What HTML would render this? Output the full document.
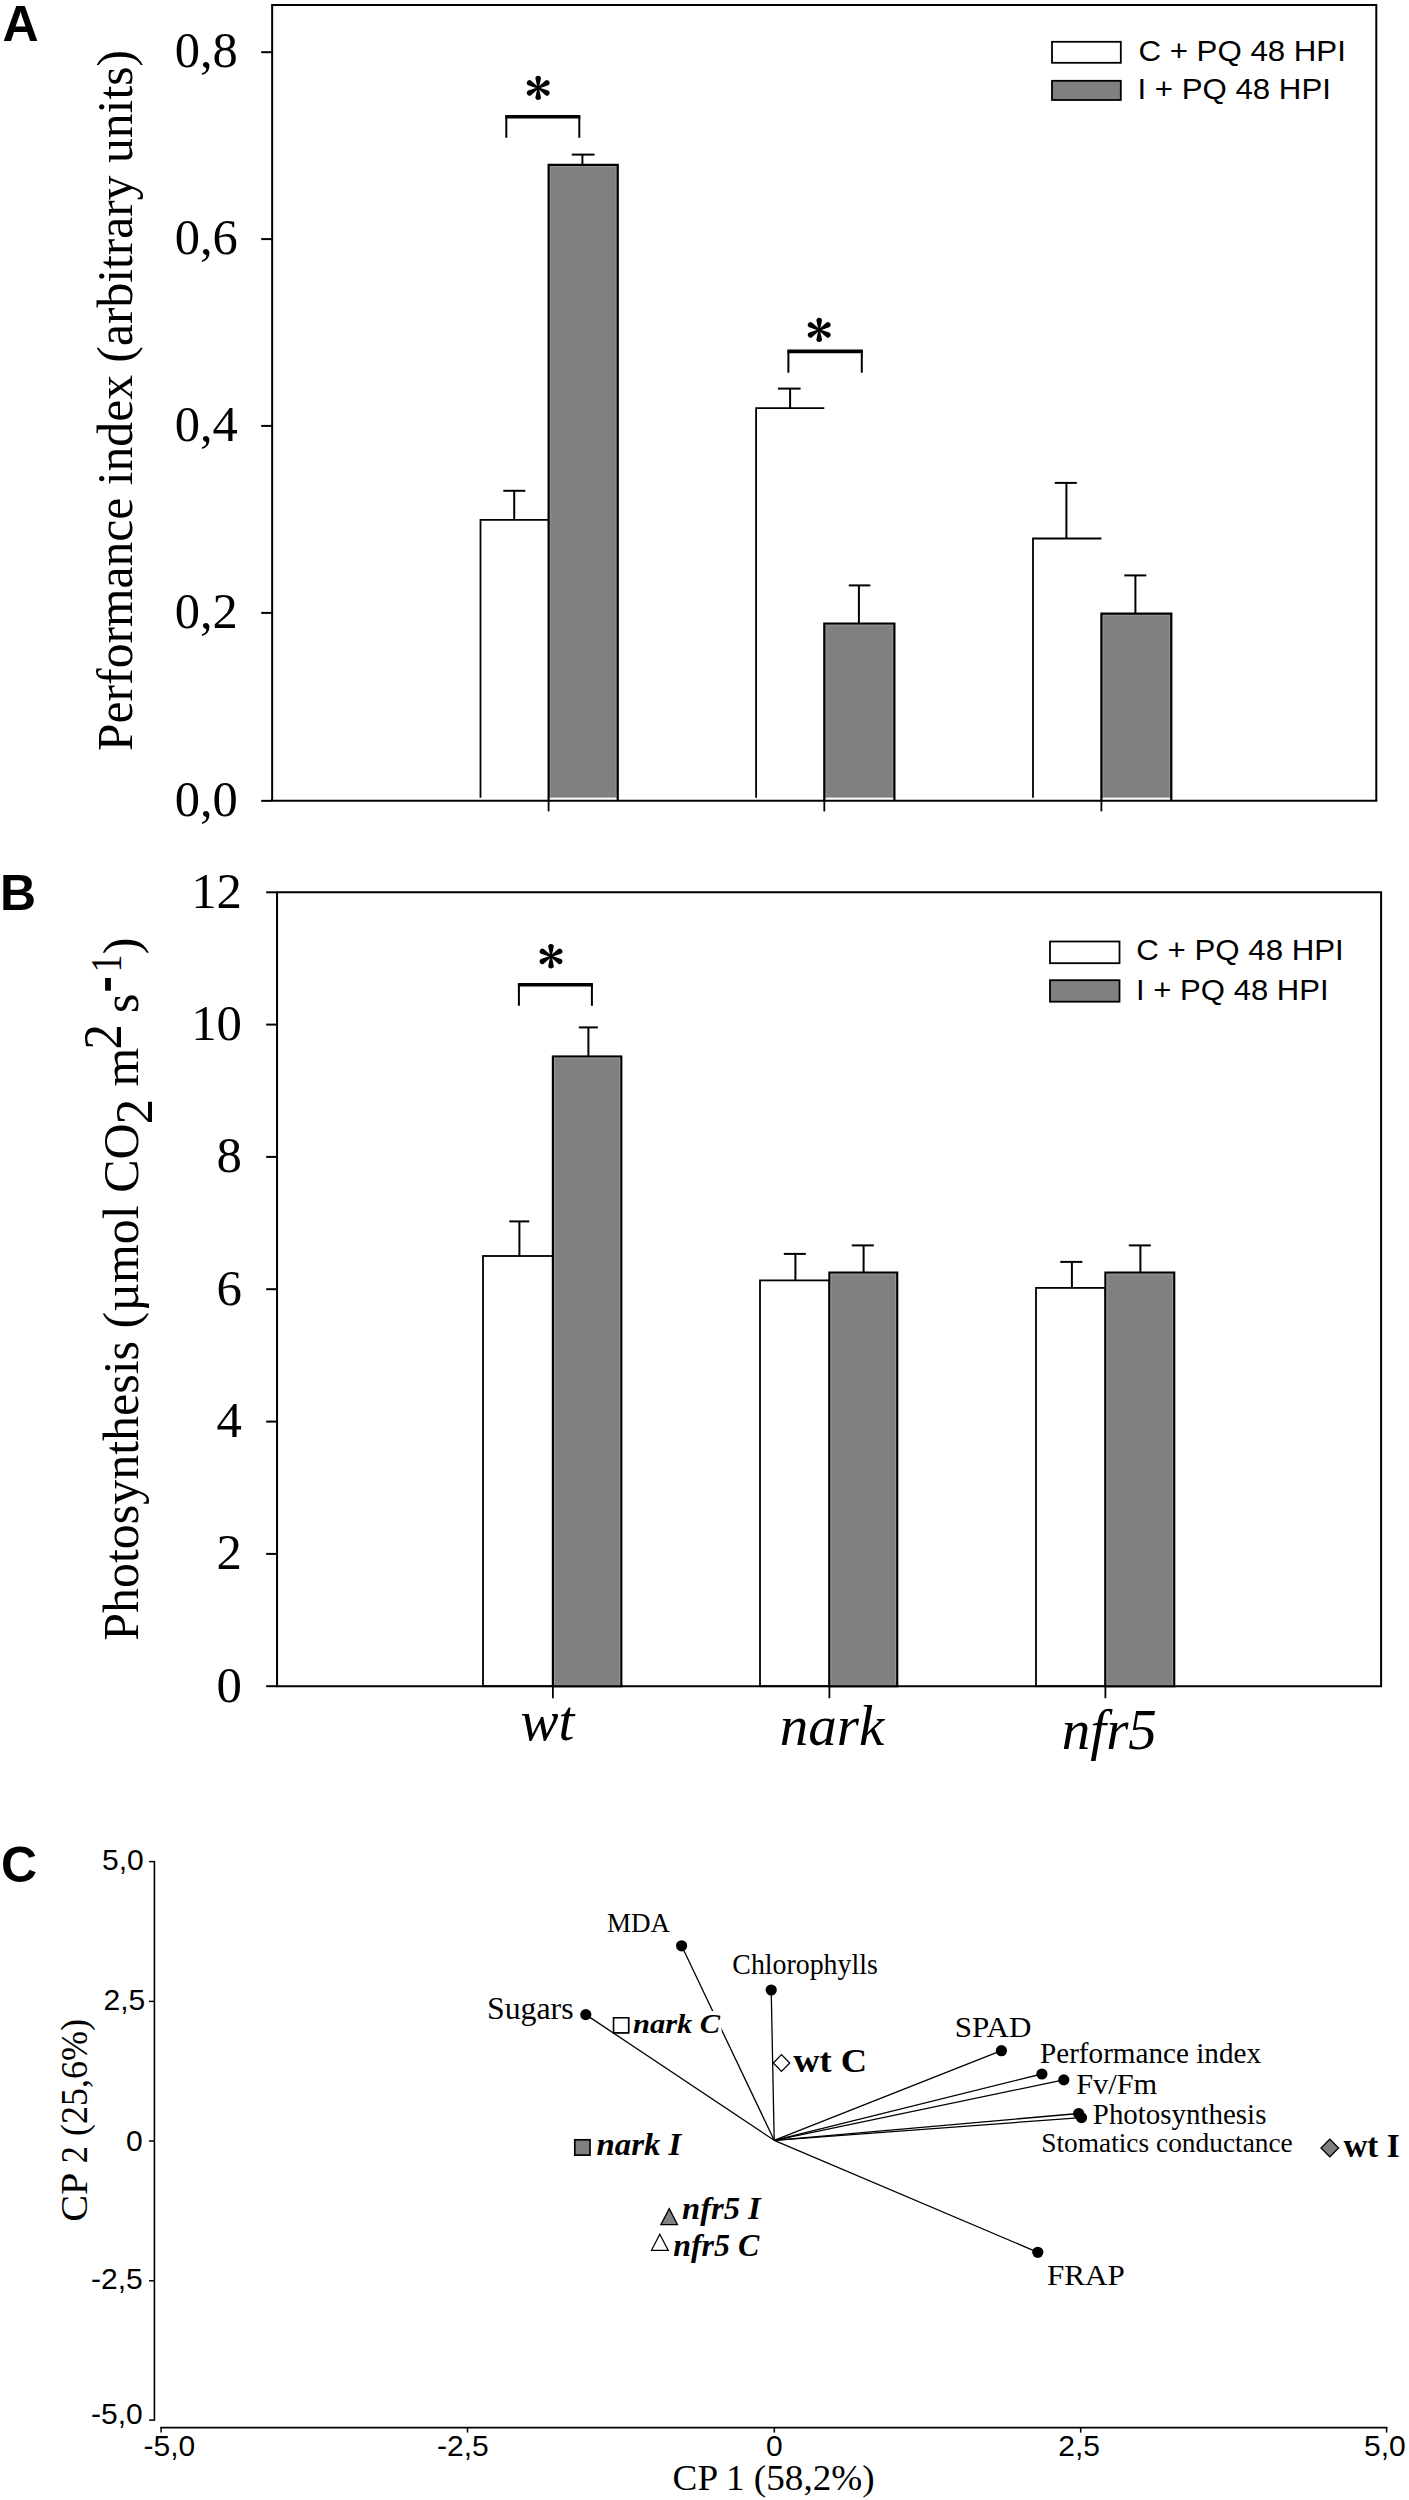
<!DOCTYPE html>
<html><head><meta charset="utf-8"><title>Figure</title>
<style>
html,body{margin:0;padding:0;background:#fff;}
body{width:1409px;height:2500px;overflow:hidden;font-family:"Liberation Serif",serif;}
svg{display:block;}
text{fill:#000;}
</style></head><body>
<svg width="1409" height="2500" viewBox="0 0 1409 2500">
<rect x="0" y="0" width="1409" height="2500" fill="#fff"/>
<path d="M272.15 800.85 L272.15 5.1 L1376.3 5.1 L1376.3 800.85" fill="none" stroke="#000" stroke-width="2"/>
<line x1="261.2" y1="800.85" x2="272.15" y2="800.85" stroke="#000" stroke-width="2"/>
<text x="237.8" y="816.0500000000001" font-family='"Liberation Serif", serif' font-size="50.5" text-anchor="end" font-weight="normal" font-style="normal">0,0</text>
<line x1="261.2" y1="612.9" x2="272.15" y2="612.9" stroke="#000" stroke-width="2"/>
<text x="237.8" y="628.1" font-family='"Liberation Serif", serif' font-size="50.5" text-anchor="end" font-weight="normal" font-style="normal">0,2</text>
<line x1="261.2" y1="425.9" x2="272.15" y2="425.9" stroke="#000" stroke-width="2"/>
<text x="237.8" y="441.09999999999997" font-family='"Liberation Serif", serif' font-size="50.5" text-anchor="end" font-weight="normal" font-style="normal">0,4</text>
<line x1="261.2" y1="239.1" x2="272.15" y2="239.1" stroke="#000" stroke-width="2"/>
<text x="237.8" y="254.29999999999998" font-family='"Liberation Serif", serif' font-size="50.5" text-anchor="end" font-weight="normal" font-style="normal">0,6</text>
<line x1="261.2" y1="52.2" x2="272.15" y2="52.2" stroke="#000" stroke-width="2"/>
<text x="237.8" y="67.4" font-family='"Liberation Serif", serif' font-size="50.5" text-anchor="end" font-weight="normal" font-style="normal">0,8</text>
<path d="M480.5 797.8 L480.5 519.9 L548.6 519.9" fill="none" stroke="#000" stroke-width="1.8"/>
<rect x="548.6" y="164.8" width="69.15" height="632.8" fill="#808080"/>
<path d="M550.2 797.6 L550.2 166.4 L616.15 166.4 L616.15 797.6" fill="none" stroke="#979797" stroke-width="1"/>
<path d="M548.6 800.85 L548.6 164.8 L617.75 164.8 L617.75 800.85" fill="none" stroke="#000" stroke-width="2.2" stroke-linejoin="miter"/>
<path d="M756.1 797.8 L756.1 408.2 L824.3 408.2" fill="none" stroke="#000" stroke-width="1.8"/>
<rect x="824.3" y="623.5" width="70.1" height="174.1" fill="#808080"/>
<path d="M825.9 797.6 L825.9 625.1 L892.8 625.1 L892.8 797.6" fill="none" stroke="#979797" stroke-width="1"/>
<path d="M824.3 800.85 L824.3 623.5 L894.4 623.5 L894.4 800.85" fill="none" stroke="#000" stroke-width="2.2" stroke-linejoin="miter"/>
<path d="M1033 797.8 L1033 538.5 L1101.4 538.5" fill="none" stroke="#000" stroke-width="1.8"/>
<rect x="1101.4" y="613.6" width="69.9" height="184.0" fill="#808080"/>
<path d="M1103.0 797.6 L1103.0 615.2 L1169.7 615.2 L1169.7 797.6" fill="none" stroke="#979797" stroke-width="1"/>
<path d="M1101.4 800.85 L1101.4 613.6 L1171.3 613.6 L1171.3 800.85" fill="none" stroke="#000" stroke-width="2.2" stroke-linejoin="miter"/>
<line x1="271.15" y1="800.85" x2="1377.3" y2="800.85" stroke="#000" stroke-width="2"/>
<line x1="548.6" y1="800.85" x2="548.6" y2="811.4" stroke="#000" stroke-width="1.8"/>
<line x1="824.3" y1="800.85" x2="824.3" y2="811.4" stroke="#000" stroke-width="1.8"/>
<line x1="1101.4" y1="800.85" x2="1101.4" y2="811.4" stroke="#000" stroke-width="1.8"/>
<line x1="514.2" y1="490.8" x2="514.2" y2="519.9" stroke="#000" stroke-width="2"/>
<line x1="503.3" y1="490.8" x2="525.3" y2="490.8" stroke="#000" stroke-width="2"/>
<line x1="582.4" y1="154.6" x2="582.4" y2="164.8" stroke="#000" stroke-width="2"/>
<line x1="571.8" y1="154.6" x2="594.5" y2="154.6" stroke="#000" stroke-width="2"/>
<line x1="790.1" y1="388.6" x2="790.1" y2="408.2" stroke="#000" stroke-width="2"/>
<line x1="777.9" y1="388.6" x2="800.6" y2="388.6" stroke="#000" stroke-width="2"/>
<line x1="858.9" y1="585.4" x2="858.9" y2="623.5" stroke="#000" stroke-width="2"/>
<line x1="848.8" y1="585.4" x2="870.3" y2="585.4" stroke="#000" stroke-width="2"/>
<line x1="1066.4" y1="482.9" x2="1066.4" y2="538.5" stroke="#000" stroke-width="2"/>
<line x1="1054.8" y1="482.9" x2="1076.8" y2="482.9" stroke="#000" stroke-width="2"/>
<line x1="1135.4" y1="575.4" x2="1135.4" y2="613.6" stroke="#000" stroke-width="2"/>
<line x1="1124.3" y1="575.4" x2="1146.3" y2="575.4" stroke="#000" stroke-width="2"/>
<path d="M506.3 137.8 L506.3 116.8 L579.3 116.8 L579.3 137.8" fill="none" stroke="#000" stroke-width="2"/>
<line x1="505.3" y1="116.8" x2="580.3" y2="116.8" stroke="#000" stroke-width="3.6"/>
<g transform="translate(538.2,87.9)" fill="#000"><path transform="rotate(0)" d="M-0.7 0.3 L-2.75 -9.45 A2.75 2.75 0 0 1 2.75 -9.45 L0.7 0.3 Z"/><path transform="rotate(60)" d="M-0.7 0.3 L-2.75 -9.95 A2.75 2.75 0 0 1 2.75 -9.95 L0.7 0.3 Z"/><path transform="rotate(120)" d="M-0.7 0.3 L-2.75 -9.95 A2.75 2.75 0 0 1 2.75 -9.95 L0.7 0.3 Z"/><path transform="rotate(180)" d="M-0.7 0.3 L-2.75 -9.45 A2.75 2.75 0 0 1 2.75 -9.45 L0.7 0.3 Z"/><path transform="rotate(240)" d="M-0.7 0.3 L-2.75 -9.95 A2.75 2.75 0 0 1 2.75 -9.95 L0.7 0.3 Z"/><path transform="rotate(300)" d="M-0.7 0.3 L-2.75 -9.95 A2.75 2.75 0 0 1 2.75 -9.95 L0.7 0.3 Z"/></g>
<path d="M788.4 372.8 L788.4 351.4 L861.8 351.4 L861.8 372.8" fill="none" stroke="#000" stroke-width="2"/>
<line x1="787.4" y1="351.4" x2="862.8" y2="351.4" stroke="#000" stroke-width="3.6"/>
<g transform="translate(819.2,329.9)" fill="#000"><path transform="rotate(0)" d="M-0.7 0.3 L-2.75 -9.45 A2.75 2.75 0 0 1 2.75 -9.45 L0.7 0.3 Z"/><path transform="rotate(60)" d="M-0.7 0.3 L-2.75 -9.95 A2.75 2.75 0 0 1 2.75 -9.95 L0.7 0.3 Z"/><path transform="rotate(120)" d="M-0.7 0.3 L-2.75 -9.95 A2.75 2.75 0 0 1 2.75 -9.95 L0.7 0.3 Z"/><path transform="rotate(180)" d="M-0.7 0.3 L-2.75 -9.45 A2.75 2.75 0 0 1 2.75 -9.45 L0.7 0.3 Z"/><path transform="rotate(240)" d="M-0.7 0.3 L-2.75 -9.95 A2.75 2.75 0 0 1 2.75 -9.95 L0.7 0.3 Z"/><path transform="rotate(300)" d="M-0.7 0.3 L-2.75 -9.95 A2.75 2.75 0 0 1 2.75 -9.95 L0.7 0.3 Z"/></g>
<rect x="1052" y="41.8" width="68.8" height="21.0" fill="#fff" stroke="#000" stroke-width="1.8"/>
<rect x="1052" y="80.8" width="68.8" height="19.2" fill="#808080" stroke="#000" stroke-width="1.8"/>
<text x="1138.4" y="60.6" font-family='"Liberation Sans", sans-serif' font-size="29" text-anchor="start" font-weight="normal" font-style="normal" textLength="207.5" lengthAdjust="spacingAndGlyphs">C + PQ 48 HPI</text>
<text x="1137.4" y="98.6" font-family='"Liberation Sans", sans-serif' font-size="29" text-anchor="start" font-weight="normal" font-style="normal" textLength="193.5" lengthAdjust="spacingAndGlyphs">I + PQ 48 HPI</text>
<text transform="translate(131.8,751) rotate(-90) scale(1.0,1)" font-family='"Liberation Serif", serif' font-size="51.5" font-weight="normal" textLength="701" lengthAdjust="spacingAndGlyphs">Performance index (arbitrary units)</text>
<text x="2.6" y="40.7" font-family='"Liberation Sans", sans-serif' font-size="50" text-anchor="start" font-weight="bold" font-style="normal">A</text>
<path d="M277.05 1686.2 L277.05 892.3 L1381.1 892.3 L1381.1 1686.2" fill="none" stroke="#000" stroke-width="2"/>
<line x1="266.2" y1="1686.2" x2="277.05" y2="1686.2" stroke="#000" stroke-width="2"/>
<text x="242" y="1701.7" font-family='"Liberation Serif", serif' font-size="50.8" text-anchor="end" font-weight="normal" font-style="normal">0</text>
<line x1="266.2" y1="1553.9" x2="277.05" y2="1553.9" stroke="#000" stroke-width="2"/>
<text x="242" y="1569.4" font-family='"Liberation Serif", serif' font-size="50.8" text-anchor="end" font-weight="normal" font-style="normal">2</text>
<line x1="266.2" y1="1421.6" x2="277.05" y2="1421.6" stroke="#000" stroke-width="2"/>
<text x="242" y="1437.1" font-family='"Liberation Serif", serif' font-size="50.8" text-anchor="end" font-weight="normal" font-style="normal">4</text>
<line x1="266.2" y1="1289.2" x2="277.05" y2="1289.2" stroke="#000" stroke-width="2"/>
<text x="242" y="1304.7" font-family='"Liberation Serif", serif' font-size="50.8" text-anchor="end" font-weight="normal" font-style="normal">6</text>
<line x1="266.2" y1="1156.9" x2="277.05" y2="1156.9" stroke="#000" stroke-width="2"/>
<text x="242" y="1172.4" font-family='"Liberation Serif", serif' font-size="50.8" text-anchor="end" font-weight="normal" font-style="normal">8</text>
<line x1="266.2" y1="1024.6" x2="277.05" y2="1024.6" stroke="#000" stroke-width="2"/>
<text x="242" y="1040.1" font-family='"Liberation Serif", serif' font-size="50.8" text-anchor="end" font-weight="normal" font-style="normal">10</text>
<line x1="266.2" y1="892.3" x2="277.05" y2="892.3" stroke="#000" stroke-width="2"/>
<text x="242" y="907.8" font-family='"Liberation Serif", serif' font-size="50.8" text-anchor="end" font-weight="normal" font-style="normal">12</text>
<rect x="483" y="1256" width="69.9" height="430.2" fill="#fff" stroke="#000" stroke-width="1.8"/>
<rect x="552.9" y="1056.5" width="68.4" height="629.7" fill="#808080" stroke="#000" stroke-width="2.2"/>
<rect x="554.5" y="1058.1" width="65.2" height="627.1" fill="none" stroke="#979797" stroke-width="1"/>
<rect x="760" y="1280.4" width="69.4" height="405.8" fill="#fff" stroke="#000" stroke-width="1.8"/>
<rect x="829.4" y="1272.6" width="67.8" height="413.6" fill="#808080" stroke="#000" stroke-width="2.2"/>
<rect x="831.0" y="1274.1999999999998" width="64.6" height="411.0" fill="none" stroke="#979797" stroke-width="1"/>
<rect x="1036" y="1287.9" width="69.4" height="398.3" fill="#fff" stroke="#000" stroke-width="1.8"/>
<rect x="1105.4" y="1272.6" width="68.8" height="413.6" fill="#808080" stroke="#000" stroke-width="2.2"/>
<rect x="1107.0" y="1274.1999999999998" width="65.6" height="411.0" fill="none" stroke="#979797" stroke-width="1"/>
<line x1="276.05" y1="1686.2" x2="1382.1" y2="1686.2" stroke="#000" stroke-width="2"/>
<line x1="552.9" y1="1686.2" x2="552.9" y2="1698.2" stroke="#000" stroke-width="1.8"/>
<line x1="829.4" y1="1686.2" x2="829.4" y2="1698.2" stroke="#000" stroke-width="1.8"/>
<line x1="1105.4" y1="1686.2" x2="1105.4" y2="1698.2" stroke="#000" stroke-width="1.8"/>
<line x1="519.4" y1="1221.4" x2="519.4" y2="1256" stroke="#000" stroke-width="2"/>
<line x1="509.3" y1="1221.4" x2="529.3" y2="1221.4" stroke="#000" stroke-width="2"/>
<line x1="588.4" y1="1027.4" x2="588.4" y2="1056.5" stroke="#000" stroke-width="2"/>
<line x1="578.8" y1="1027.4" x2="597.8" y2="1027.4" stroke="#000" stroke-width="2"/>
<line x1="795.4" y1="1253.9" x2="795.4" y2="1280.4" stroke="#000" stroke-width="2"/>
<line x1="783.8" y1="1253.9" x2="805.8" y2="1253.9" stroke="#000" stroke-width="2"/>
<line x1="863.6" y1="1245.4" x2="863.6" y2="1272.6" stroke="#000" stroke-width="2"/>
<line x1="851.8" y1="1245.4" x2="873.8" y2="1245.4" stroke="#000" stroke-width="2"/>
<line x1="1071.9" y1="1261.9" x2="1071.9" y2="1287.9" stroke="#000" stroke-width="2"/>
<line x1="1060.3" y1="1261.9" x2="1082.3" y2="1261.9" stroke="#000" stroke-width="2"/>
<line x1="1140.4" y1="1245.4" x2="1140.4" y2="1272.6" stroke="#000" stroke-width="2"/>
<line x1="1128.8" y1="1245.4" x2="1150.8" y2="1245.4" stroke="#000" stroke-width="2"/>
<path d="M518.9 1005.8 L518.9 984.8 L591.9 984.8 L591.9 1005.8" fill="none" stroke="#000" stroke-width="2"/>
<line x1="517.9" y1="984.8" x2="592.9" y2="984.8" stroke="#000" stroke-width="3.6"/>
<g transform="translate(551,956.3)" fill="#000"><path transform="rotate(0)" d="M-0.7 0.3 L-2.75 -9.45 A2.75 2.75 0 0 1 2.75 -9.45 L0.7 0.3 Z"/><path transform="rotate(60)" d="M-0.7 0.3 L-2.75 -9.95 A2.75 2.75 0 0 1 2.75 -9.95 L0.7 0.3 Z"/><path transform="rotate(120)" d="M-0.7 0.3 L-2.75 -9.95 A2.75 2.75 0 0 1 2.75 -9.95 L0.7 0.3 Z"/><path transform="rotate(180)" d="M-0.7 0.3 L-2.75 -9.45 A2.75 2.75 0 0 1 2.75 -9.45 L0.7 0.3 Z"/><path transform="rotate(240)" d="M-0.7 0.3 L-2.75 -9.95 A2.75 2.75 0 0 1 2.75 -9.95 L0.7 0.3 Z"/><path transform="rotate(300)" d="M-0.7 0.3 L-2.75 -9.95 A2.75 2.75 0 0 1 2.75 -9.95 L0.7 0.3 Z"/></g>
<rect x="1050" y="941.5" width="69.5" height="21.7" fill="#fff" stroke="#000" stroke-width="1.8"/>
<rect x="1050" y="980.2" width="69.5" height="21.5" fill="#808080" stroke="#000" stroke-width="1.8"/>
<text x="1136.3" y="960.4" font-family='"Liberation Sans", sans-serif' font-size="29" text-anchor="start" font-weight="normal" font-style="normal" textLength="207.5" lengthAdjust="spacingAndGlyphs">C + PQ 48 HPI</text>
<text x="1136.1" y="999.6" font-family='"Liberation Sans", sans-serif' font-size="29" text-anchor="start" font-weight="normal" font-style="normal" textLength="192.5" lengthAdjust="spacingAndGlyphs">I + PQ 48 HPI</text>
<text x="520.5" y="1739.8" font-family='"Liberation Serif", serif' font-size="57" text-anchor="start" font-weight="normal" font-style="italic">wt</text>
<text x="779.8" y="1745.4" font-family='"Liberation Serif", serif' font-size="57" text-anchor="start" font-weight="normal" font-style="italic">nark</text>
<text x="1061.8" y="1749" font-family='"Liberation Serif", serif' font-size="57" text-anchor="start" font-weight="normal" font-style="italic">nfr5</text>
<text transform="translate(138.3,1640.8) rotate(-90) scale(1.0,1)" font-family='"Liberation Serif", serif' font-size="51.5" font-weight="normal" textLength="517.4" lengthAdjust="spacingAndGlyphs">Photosynthesis (µmol CO</text>
<text transform="translate(151.8,1124.3) rotate(-90) scale(0.95,1)" font-family='"Liberation Serif", serif' font-size="53.5" font-weight="normal">2</text>
<text transform="translate(138.3,1086.6) rotate(-90) scale(0.97,1)" font-family='"Liberation Serif", serif' font-size="51.5" font-weight="normal">m</text>
<text transform="translate(120.6,1049.4) rotate(-90) scale(0.94,1)" font-family='"Liberation Serif", serif' font-size="54" font-weight="normal">2</text>
<text transform="translate(138.3,1012.9) rotate(-90) scale(0.97,1)" font-family='"Liberation Serif", serif' font-size="51.5" font-weight="normal">s</text>
<rect x="105.1" y="978" width="5.8" height="12.7" fill="#000"/>
<text transform="translate(120.5,972.6) rotate(-90) scale(0.82,1)" font-family='"Liberation Serif", serif' font-size="44" font-weight="normal">1</text>
<text transform="translate(138.3,954.2) rotate(-90) scale(0.97,1)" font-family='"Liberation Serif", serif' font-size="51.5" font-weight="normal">)</text>
<text x="0" y="909.8" font-family='"Liberation Sans", sans-serif' font-size="50" text-anchor="start" font-weight="bold" font-style="normal">B</text>
<line x1="154.4" y1="1860.9" x2="154.4" y2="2420.8" stroke="#000" stroke-width="1.6"/>
<line x1="160.2" y1="2427.6" x2="1387.4" y2="2427.6" stroke="#000" stroke-width="1.6"/>
<line x1="149" y1="1861.6" x2="154.4" y2="1861.6" stroke="#000" stroke-width="1.5"/>
<text x="143.8" y="1870.4" font-family='"Liberation Sans", sans-serif' font-size="30" text-anchor="end" font-weight="normal" font-style="normal">5,0</text>
<line x1="149" y1="2001.4" x2="154.4" y2="2001.4" stroke="#000" stroke-width="1.5"/>
<text x="145.2" y="2010.4" font-family='"Liberation Sans", sans-serif' font-size="30" text-anchor="end" font-weight="normal" font-style="normal">2,5</text>
<line x1="149" y1="2141" x2="154.4" y2="2141" stroke="#000" stroke-width="1.5"/>
<text x="142.7" y="2151.1" font-family='"Liberation Sans", sans-serif' font-size="30" text-anchor="end" font-weight="normal" font-style="normal">0</text>
<line x1="149" y1="2280.8" x2="154.4" y2="2280.8" stroke="#000" stroke-width="1.5"/>
<text x="142.8" y="2289" font-family='"Liberation Sans", sans-serif' font-size="30" text-anchor="end" font-weight="normal" font-style="normal">-2,5</text>
<line x1="149" y1="2420.1" x2="154.4" y2="2420.1" stroke="#000" stroke-width="1.5"/>
<text x="142.7" y="2424" font-family='"Liberation Sans", sans-serif' font-size="30" text-anchor="end" font-weight="normal" font-style="normal">-5,0</text>
<line x1="161.1" y1="2427.6" x2="161.1" y2="2432.6" stroke="#000" stroke-width="1.5"/>
<text x="143.5" y="2456" font-family='"Liberation Sans", sans-serif' font-size="30" text-anchor="start" font-weight="normal" font-style="normal">-5,0</text>
<line x1="467.5" y1="2427.6" x2="467.5" y2="2432.6" stroke="#000" stroke-width="1.5"/>
<text x="437.1" y="2456" font-family='"Liberation Sans", sans-serif' font-size="30" text-anchor="start" font-weight="normal" font-style="normal">-2,5</text>
<line x1="774.3" y1="2427.6" x2="774.3" y2="2432.6" stroke="#000" stroke-width="1.5"/>
<text x="765.9" y="2456" font-family='"Liberation Sans", sans-serif' font-size="30" text-anchor="start" font-weight="normal" font-style="normal">0</text>
<line x1="1080.7" y1="2427.6" x2="1080.7" y2="2432.6" stroke="#000" stroke-width="1.5"/>
<text x="1058.3" y="2456" font-family='"Liberation Sans", sans-serif' font-size="30" text-anchor="start" font-weight="normal" font-style="normal">2,5</text>
<line x1="1386.6" y1="2427.6" x2="1386.6" y2="2432.6" stroke="#000" stroke-width="1.5"/>
<text x="1364" y="2456" font-family='"Liberation Sans", sans-serif' font-size="30" text-anchor="start" font-weight="normal" font-style="normal">5,0</text>
<line x1="774.2" y1="2140.3" x2="585.8" y2="2014.6" stroke="#000" stroke-width="1.3"/>
<circle cx="585.8" cy="2014.6" r="5.6" fill="#000"/>
<line x1="774.2" y1="2140.3" x2="681.6" y2="1945.8" stroke="#000" stroke-width="1.3"/>
<circle cx="681.6" cy="1945.8" r="5.6" fill="#000"/>
<line x1="774.2" y1="2140.3" x2="771.2" y2="1990" stroke="#000" stroke-width="1.3"/>
<circle cx="771.2" cy="1990" r="5.6" fill="#000"/>
<line x1="774.2" y1="2140.3" x2="1001.4" y2="2050.7" stroke="#000" stroke-width="1.3"/>
<circle cx="1001.4" cy="2050.7" r="5.6" fill="#000"/>
<line x1="774.2" y1="2140.3" x2="1041.9" y2="2074" stroke="#000" stroke-width="1.3"/>
<circle cx="1041.9" cy="2074" r="5.6" fill="#000"/>
<line x1="774.2" y1="2140.3" x2="1063.8" y2="2079.9" stroke="#000" stroke-width="1.3"/>
<circle cx="1063.8" cy="2079.9" r="5.6" fill="#000"/>
<line x1="774.2" y1="2140.3" x2="1078.7" y2="2113.5" stroke="#000" stroke-width="1.3"/>
<circle cx="1078.7" cy="2113.5" r="5.6" fill="#000"/>
<line x1="774.2" y1="2140.3" x2="1081.5" y2="2117.6" stroke="#000" stroke-width="1.3"/>
<circle cx="1081.5" cy="2117.6" r="5.6" fill="#000"/>
<line x1="774.2" y1="2140.3" x2="1037.8" y2="2252.3" stroke="#000" stroke-width="1.3"/>
<circle cx="1037.8" cy="2252.3" r="5.6" fill="#000"/>
<text x="607" y="1931.8" font-family='"Liberation Serif", serif' font-size="27" text-anchor="start" font-weight="normal" font-style="normal" textLength="63" lengthAdjust="spacingAndGlyphs">MDA</text>
<text x="732.3" y="1974.4" font-family='"Liberation Serif", serif' font-size="28.5" text-anchor="start" font-weight="normal" font-style="normal" textLength="145.5" lengthAdjust="spacingAndGlyphs">Chlorophylls</text>
<text x="487" y="2019" font-family='"Liberation Serif", serif' font-size="31.5" text-anchor="start" font-weight="normal" font-style="normal" textLength="86.6" lengthAdjust="spacingAndGlyphs">Sugars</text>
<text x="954.8" y="2036.5" font-family='"Liberation Serif", serif' font-size="29" text-anchor="start" font-weight="normal" font-style="normal" textLength="76.6" lengthAdjust="spacingAndGlyphs">SPAD</text>
<text x="1040" y="2063.4" font-family='"Liberation Serif", serif' font-size="28.8" text-anchor="start" font-weight="normal" font-style="normal" textLength="221" lengthAdjust="spacingAndGlyphs">Performance index</text>
<text x="1076.2" y="2093.7" font-family='"Liberation Serif", serif' font-size="28.6" text-anchor="start" font-weight="normal" font-style="normal" textLength="81" lengthAdjust="spacingAndGlyphs">Fv/Fm</text>
<text x="1092.8" y="2124.1" font-family='"Liberation Serif", serif' font-size="28.5" text-anchor="start" font-weight="normal" font-style="normal" textLength="173.6" lengthAdjust="spacingAndGlyphs">Photosynthesis</text>
<text x="1041.2" y="2152.4" font-family='"Liberation Serif", serif' font-size="27.6" text-anchor="start" font-weight="normal" font-style="normal" textLength="251.6" lengthAdjust="spacingAndGlyphs">Stomatics conductance</text>
<text x="1046.9" y="2284.6" font-family='"Liberation Serif", serif' font-size="28.5" text-anchor="start" font-weight="normal" font-style="normal" textLength="77.8" lengthAdjust="spacingAndGlyphs">FRAP</text>
<rect x="613.6" y="2017.8" width="15.0" height="15.0" fill="#fff" stroke="#000" stroke-width="1.5"/>
<rect x="574.8" y="2139.8" width="15.2" height="15.3" fill="#808080" stroke="#000" stroke-width="1.7"/>
<polygon points="669.3,2208.6 660.9,2224.6 677.5,2224.6" fill="#808080" stroke="#000" stroke-width="1.3"/>
<polygon points="659.8,2234.3 651.5,2250.3 668.2,2250.3" fill="#fff" stroke="#000" stroke-width="1.3"/>
<polygon points="781.5,2054.6 789.7,2063 781.5,2071.4 773.3,2063" fill="#fff" stroke="#000" stroke-width="1.3"/>
<polygon points="1329.8,2139.2 1338.6,2148 1329.8,2156.8 1321,2148" fill="#808080" stroke="#000" stroke-width="1.3"/>
<rect x="631.5" y="2011" width="90" height="23.5" fill="#fff"/>
<rect x="613.6" y="2017.8" width="15.0" height="15.0" fill="#fff" stroke="#000" stroke-width="1.5"/>
<text x="633" y="2032.8" font-family='"Liberation Serif", serif' font-size="27.8" text-anchor="start" font-weight="bold" font-style="italic" textLength="87.2" lengthAdjust="spacingAndGlyphs">nark C</text>
<text x="596.6" y="2155.4" font-family='"Liberation Serif", serif' font-size="32.5" text-anchor="start" font-weight="bold" font-style="italic" textLength="84.8" lengthAdjust="spacingAndGlyphs">nark I</text>
<text x="682" y="2218.6" font-family='"Liberation Serif", serif' font-size="32" text-anchor="start" font-weight="bold" font-style="italic" textLength="78.8" lengthAdjust="spacingAndGlyphs">nfr5 I</text>
<text x="673.2" y="2255.7" font-family='"Liberation Serif", serif' font-size="32" text-anchor="start" font-weight="bold" font-style="italic" textLength="86" lengthAdjust="spacingAndGlyphs">nfr5 C</text>
<text x="793.2" y="2071.8" font-family='"Liberation Serif", serif' font-size="34" text-anchor="start" font-weight="bold" font-style="normal" textLength="74" lengthAdjust="spacingAndGlyphs">wt C</text>
<text x="1343.4" y="2156.7" font-family='"Liberation Serif", serif' font-size="33" text-anchor="start" font-weight="bold" font-style="normal" textLength="56.2" lengthAdjust="spacingAndGlyphs">wt I</text>
<text x="672.6" y="2490" font-family='"Liberation Serif", serif' font-size="35" text-anchor="start" font-weight="normal" font-style="normal" textLength="202" lengthAdjust="spacingAndGlyphs">CP 1 (58,2%)</text>
<text transform="translate(86.8,2221.8) rotate(-90) scale(1.0,1)" font-family='"Liberation Serif", serif' font-size="38" font-weight="normal" textLength="49.2" lengthAdjust="spacingAndGlyphs">CP</text>
<text transform="translate(86.8,2163.3) rotate(-90) scale(0.9,1)" font-family='"Liberation Serif", serif' font-size="38" font-weight="normal">2</text>
<text transform="translate(86.8,2136) rotate(-90) scale(1.0,1)" font-family='"Liberation Serif", serif' font-size="38" font-weight="normal" textLength="117" lengthAdjust="spacingAndGlyphs">(25,6%)</text>
<text x="0.9" y="1881.5" font-family='"Liberation Sans", sans-serif' font-size="50" text-anchor="start" font-weight="bold" font-style="normal">C</text>
</svg>
</body></html>
